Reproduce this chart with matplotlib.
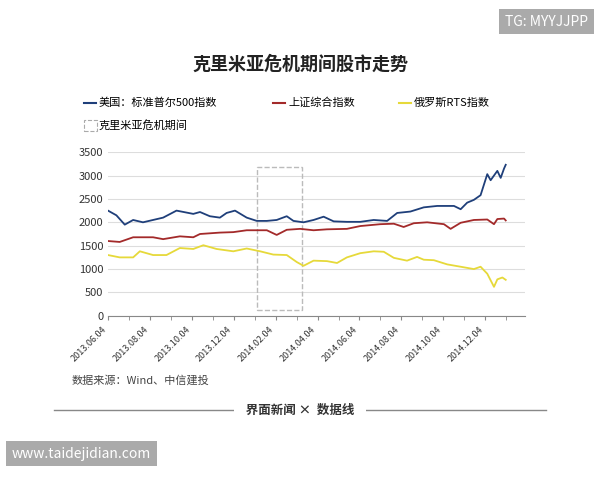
import matplotlib
matplotlib.use("Agg")
import matplotlib.pyplot as plt
from matplotlib.patches import Rectangle
plt.rcParams['font.family'] = ['Noto Sans CJK SC', 'DejaVu Sans']

tick_labels = ["2013.06.04","2013.08.04","2013.10.04","2013.12.04","2014.02.04",
               "2014.04.04","2014.06.04","2014.08.04","2014.10.04","2014.12.04"]
# x in months since 2013.06.04
us_x = [0,0.4,0.8,1.2,1.67,2.15,2.63,3.27,4.07,4.39,4.86,5.34,5.66,6.06,6.62,7.1,7.58,8.05,8.53,8.85,9.33,9.81,10.29,10.77,11.4,12.04,12.68,13.32,13.8,14.43,15.07,15.71,16.51,16.83,17.14,17.46,17.78,18.1,18.26,18.58,18.74,18.9,18.98]
us_y = [2250,2150,1950,2050,2000,2050,2100,2250,2180,2220,2130,2100,2200,2250,2100,2030,2030,2050,2130,2030,2000,2050,2120,2020,2010,2010,2050,2030,2200,2230,2320,2350,2350,2280,2420,2480,2580,3030,2900,3100,2950,3150,3230]
cn_x = [0,0.56,1.2,2.15,2.63,3.43,4.07,4.39,5.34,5.98,6.62,7.58,8.05,8.53,9.17,9.81,10.45,11.4,12.04,13.0,13.64,14.11,14.59,15.23,16.03,16.35,16.83,17.46,18.1,18.42,18.58,18.9,18.98]
cn_y = [1600,1580,1680,1680,1640,1700,1680,1750,1780,1790,1830,1830,1730,1840,1860,1830,1850,1860,1920,1960,1970,1900,1980,2000,1960,1860,1990,2050,2060,1960,2070,2080,2040]
ru_x = [0,0.56,1.2,1.52,2.15,2.79,3.43,4.07,4.55,5.18,5.98,6.62,7.26,7.89,8.53,9.01,9.33,9.81,10.45,10.93,11.4,12.04,12.68,13.16,13.64,14.27,14.75,15.07,15.55,16.19,16.83,17.46,17.78,18.1,18.42,18.58,18.82,18.98]
ru_y = [1300,1250,1250,1380,1300,1300,1450,1430,1510,1430,1380,1440,1380,1310,1300,1150,1070,1180,1170,1130,1250,1340,1380,1370,1240,1180,1260,1200,1190,1100,1050,1000,1050,900,620,780,820,770]
crisis = (7.13, 9.28, 120, 3180)

fig = plt.figure(figsize=(6, 4.8), dpi=100)
fig.patch.set_facecolor('white')
ax = fig.add_axes([0.18, 0.342, 0.695, 0.341])
ax.plot(us_x, us_y, color='#1f3f7a', lw=1.3)
ax.plot(cn_x, cn_y, color='#a32a2a', lw=1.3)
ax.plot(ru_x, ru_y, color='#e6d93a', lw=1.3)
ax.add_patch(Rectangle((crisis[0], crisis[2]), crisis[1]-crisis[0], crisis[3]-crisis[2],
                       fill=False, ls='--', ec='#bbbbbb', lw=1))
ax.set_xlim(0, 19.9)
ax.set_ylim(0, 3500)
ax.set_yticks(range(0, 3501, 500))
ax.set_xticks(range(0, 20))
ax.set_xticks(range(0, 20, 2))
ax.set_xticklabels(tick_labels, rotation=45, ha='right', fontsize=6.5, color='#333333')
ax.set_xticks(range(0, 20), minor=True)
ax.tick_params(axis='y', length=0, labelsize=8, colors='#333333')
ax.tick_params(axis='x', which='both', length=3, color='#888888')
ax.grid(axis='y', color='#dddddd', lw=0.8)
for s in ['top', 'right', 'left']:
    ax.spines[s].set_visible(False)
ax.spines['bottom'].set_color('#888888')
ax.set_axisbelow(True)

fig.text(0.5, 0.855, '克里米亚危机期间股市走势', ha='center', fontsize=13, weight='bold', color='#222222')
fig.add_artist(plt.Line2D([0.14, 0.16], [0.785, 0.785], color='#1f3f7a', lw=1.5))
fig.text(0.165, 0.785, '美国：标准普尔500指数', va='center', fontsize=8)
fig.add_artist(plt.Line2D([0.455, 0.475], [0.785, 0.785], color='#a32a2a', lw=1.5))
fig.text(0.48, 0.785, '上证综合指数', va='center', fontsize=8)
fig.add_artist(plt.Line2D([0.665, 0.685], [0.785, 0.785], color='#e6d93a', lw=1.5))
fig.text(0.69, 0.785, '俄罗斯RTS指数', va='center', fontsize=8)
fig.add_artist(Rectangle((0.14, 0.727), 0.022, 0.022, fill=False, ls='--', ec='#aaaaaa', lw=0.8))
fig.text(0.165, 0.738, '克里米亚危机期间', va='center', fontsize=8)
fig.text(0.12, 0.2, '数据来源：Wind、中信建投', fontsize=8, color='#444444')
fig.add_artist(plt.Line2D([0.09, 0.91], [0.145, 0.145], color='#888888', lw=1))
fig.text(0.5, 0.145, '  界面新闻 ×  数据线  ', ha='center', va='center', fontsize=9, weight='bold',
         color='#333333', bbox=dict(fc='white', ec='none'))
fig.text(0.98, 0.955, 'TG: MYYJJPP', ha='right', va='center', fontsize=10, color='white',
         bbox=dict(fc='#aaaaaa', ec='none', pad=4))
fig.text(0.02, 0.055, 'www.taidejidian.com', va='center', fontsize=10, color='white',
         bbox=dict(fc='#aaaaaa', ec='none', pad=4))
fig.savefig('out.png', dpi=100)
